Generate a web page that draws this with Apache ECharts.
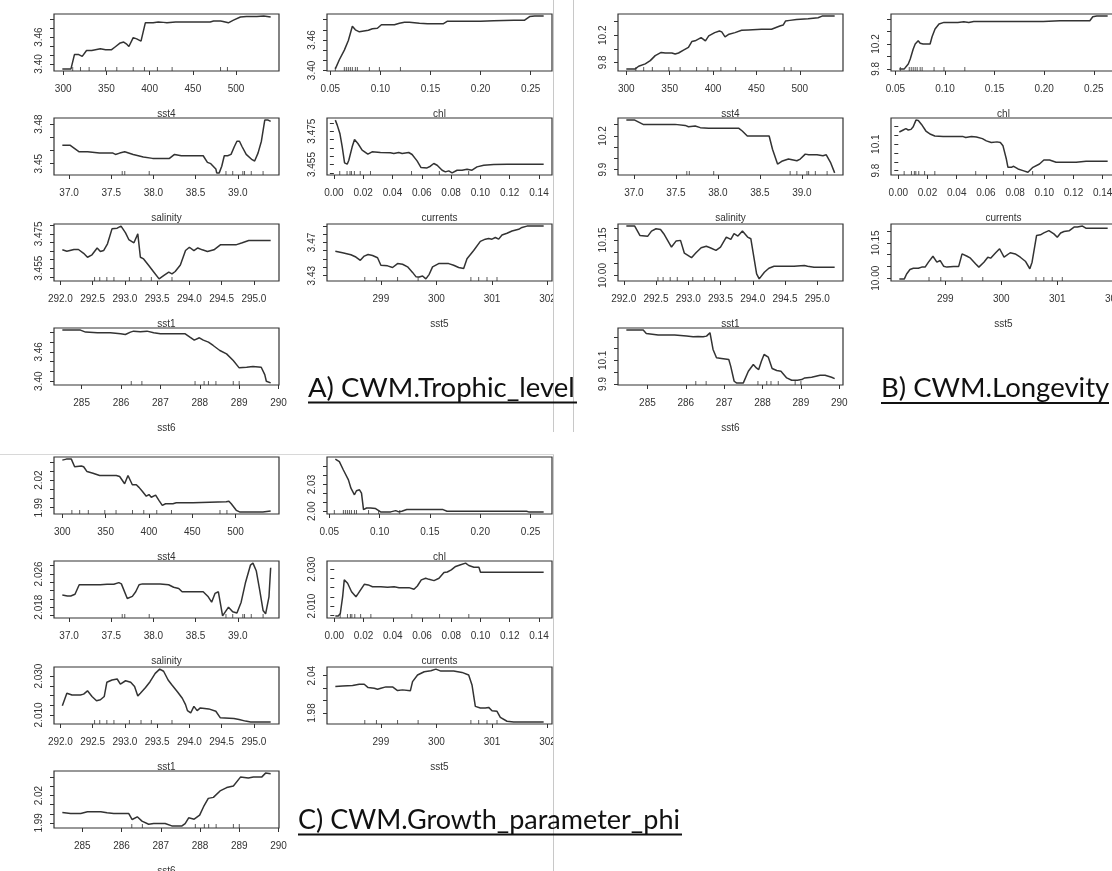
<!DOCTYPE html>
<html><head><meta charset="utf-8">
<script src="https://cdn.jsdelivr.net/npm/echarts@6/dist/echarts.min.js"></script>
<style>html,body{margin:0;padding:0;background:#fff}#c{width:1112px;height:871px}</style>
</head><body><div id="c"></div>
<script>
// ---------- x tick labels (shared by predictor) ----------
const SST4_TICKS = ['300','350','400','450','500'];
const CHL_TICKS = ['0.05','0.10','0.15','0.20','0.25'];
const SAL_TICKS = ['37.0','37.5','38.0','38.5','39.0'];
const CUR_TICKS = ['0.00','0.02','0.04','0.06','0.08','0.10','0.12','0.14'];
const SST1_TICKS = ['292.0','292.5','293.0','293.5','294.0','294.5','295.0'];
const SST5_TICKS = ['299','300','301','302'];
const SST6_TICKS = ['285','286','287','288','289','290'];

// ---------- rug (data deciles) ----------
const SST4_RUG = [311, 320, 330, 349, 362, 381, 394, 409, 426, 482, 490];
const CHL_RUG = [0.055, 0.064, 0.066, 0.068, 0.070, 0.072, 0.075, 0.077, 0.089, 0.099, 0.120];
const SAL_RUG = [37.63, 37.66, 37.95, 38.86, 38.94, 39.06, 39.08, 39.16, 39.30];
const CUR_RUG = [0.004, 0.009, 0.011, 0.012, 0.014, 0.018, 0.025, 0.053, 0.072, 0.092];
const SST1_RUG = [292.53, 292.61, 292.72, 292.83, 293.07, 293.25, 293.41, 293.73];
const SST5_RUG = [298.71, 298.92, 299.30, 299.67, 300.62, 300.76, 300.91, 301.09];
const SST6_RUG = [286.26, 286.53, 287.88, 288.11, 288.22, 288.41, 288.85, 289.00];

// ---------- A) CWM.Trophic_level ----------
const A_sst4_x = [299,309,313,318,322,327,333,343,349,356,360,366,370,373,376,381,385,390,395,404,410,416,420,430,451,470,474,482,485,491,497,505,512,524,532,540];
const A_sst4_y = [3.389,3.389,3.421,3.421,3.417,3.430,3.430,3.434,3.432,3.432,3.438,3.447,3.449,3.445,3.439,3.459,3.456,3.451,3.492,3.492,3.494,3.493,3.492,3.494,3.494,3.494,3.496,3.496,3.495,3.492,3.498,3.505,3.506,3.506,3.507,3.505];
const A_sst4_yt = ['3.40','3.42','3.44','3.46','3.48','3.50'];
const A_sst4_yl = ['3.40','3.46'];

const A_chl_x = [0.055,0.059,0.064,0.068,0.072,0.075,0.079,0.082,0.088,0.092,0.097,0.101,0.107,0.114,0.119,0.124,0.129,0.134,0.139,0.147,0.163,0.167,0.183,0.200,0.213,0.233,0.244,0.249,0.254,0.263];
const A_chl_y = [3.403,3.421,3.440,3.459,3.487,3.480,3.476,3.477,3.479,3.482,3.483,3.490,3.490,3.490,3.493,3.495,3.495,3.494,3.493,3.492,3.492,3.497,3.497,3.497,3.498,3.499,3.499,3.506,3.507,3.507];
const A_chl_yt = ['3.40','3.42','3.44','3.46','3.48','3.50'];
const A_chl_yl = ['3.40','3.46'];

const A_sal_x = [36.92,37.01,37.12,37.22,37.36,37.52,37.55,37.60,37.66,37.76,37.88,37.99,38.19,38.25,38.33,38.55,38.59,38.64,38.68,38.74,38.75,38.78,38.81,38.84,38.88,38.92,38.96,38.99,39.02,39.05,39.10,39.17,39.20,39.24,39.28,39.32,39.36,39.39];
const A_sal_y = [3.464,3.464,3.459,3.459,3.458,3.458,3.457,3.458,3.459,3.457,3.455,3.454,3.454,3.457,3.456,3.456,3.456,3.451,3.450,3.446,3.443,3.443,3.448,3.456,3.456,3.457,3.463,3.467,3.467,3.463,3.457,3.453,3.452,3.458,3.467,3.483,3.483,3.482];
const A_sal_yt = ['3.44','3.45','3.46','3.47','3.48'];
const A_sal_yl = ['3.45','3.48'];

const A_cur_x = [0.001,0.0023,0.0041,0.0057,0.0073,0.0091,0.0102,0.0125,0.0141,0.0164,0.0193,0.0232,0.0261,0.0318,0.0386,0.0409,0.0443,0.0466,0.0511,0.0534,0.0568,0.0595,0.0636,0.0659,0.0682,0.0705,0.0739,0.0761,0.0784,0.0807,0.0841,0.0875,0.0909,0.0943,0.0977,0.1023,0.1091,0.1182,0.1273,0.1432];
const A_cur_y = [3.4816,3.4786,3.4736,3.4656,3.456,3.4552,3.4576,3.4656,3.470,3.4676,3.4636,3.4612,3.4626,3.4622,3.462,3.4616,3.4622,3.4616,3.4622,3.461,3.4572,3.4532,3.453,3.454,3.4556,3.4546,3.4516,3.4506,3.4512,3.450,3.4516,3.4516,3.4522,3.4516,3.4536,3.4546,3.455,3.4552,3.4552,3.4552];
const A_cur_yt = ['3.450','3.455','3.460','3.465','3.470','3.475','3.480'];
const A_cur_yl = ['3.455','3.475'];

const A_sst1_x = [292.03,292.10,292.21,292.28,292.36,292.42,292.49,292.57,292.62,292.67,292.73,292.80,292.88,292.94,293.01,293.06,293.14,293.20,293.24,293.29,293.37,293.45,293.53,293.60,293.68,293.73,293.78,293.86,293.94,294.00,294.07,294.13,294.20,294.28,294.38,294.48,294.59,294.72,294.82,294.92,295.10,295.26];
const A_sst1_y = [3.4657,3.4649,3.4659,3.4659,3.4637,3.4614,3.4628,3.4668,3.4647,3.4653,3.4692,3.4779,3.4783,3.4795,3.4756,3.4717,3.4698,3.475,3.4614,3.4604,3.4566,3.4527,3.4488,3.4507,3.4527,3.4517,3.4531,3.4569,3.4653,3.4672,3.4653,3.4668,3.4657,3.4647,3.4657,3.4686,3.4686,3.4686,3.4698,3.4711,3.4711,3.4711];
const A_sst1_yt = ['3.450','3.455','3.460','3.465','3.470','3.475','3.480'];
const A_sst1_yl = ['3.455','3.475'];

const A_sst5_x = [298.18,298.31,298.46,298.55,298.63,298.70,298.77,298.85,298.94,299.00,299.12,299.21,299.30,299.39,299.48,299.57,299.63,299.69,299.75,299.81,299.87,299.93,300.04,300.22,300.31,300.40,300.49,300.55,300.67,300.79,300.88,300.94,301.00,301.06,301.12,301.18,301.27,301.36,301.48,301.54,301.63,301.75,301.93];
const A_sst5_y = [3.4594,3.4575,3.4551,3.4524,3.4484,3.4535,3.4555,3.4543,3.4516,3.4425,3.4418,3.4398,3.4445,3.4437,3.4406,3.4339,3.4288,3.4284,3.4296,3.4261,3.4316,3.4406,3.4445,3.4445,3.4425,3.4398,3.4386,3.4504,3.4602,3.4712,3.4739,3.4747,3.4739,3.4759,3.4739,3.479,3.481,3.4837,3.4857,3.488,3.4896,3.4896,3.4896];
const A_sst5_yt = ['3.43','3.44','3.45','3.46','3.47','3.48','3.49'];
const A_sst5_yl = ['3.43','3.47'];

const A_sst6_x = [284.51,284.97,285.10,285.40,285.73,285.99,286.11,286.24,286.32,286.49,286.66,286.83,287.00,287.17,287.50,287.63,287.75,287.86,287.99,288.09,288.22,288.34,288.51,288.68,288.85,289.00,289.19,289.35,289.56,289.65,289.69,289.80];
const A_sst6_y = [3.5044,3.5044,3.5003,3.4989,3.4989,3.4969,3.4955,3.5003,3.5023,3.501,3.5023,3.4989,3.4969,3.4969,3.4969,3.4969,3.490,3.4839,3.4887,3.4839,3.4798,3.473,3.4628,3.4559,3.4423,3.4273,3.4286,3.430,3.4286,3.4136,3.400,3.3966];
const A_sst6_yt = ['3.40','3.42','3.44','3.46','3.48','3.50'];
const A_sst6_yl = ['3.40','3.46'];

// ---------- B) CWM.Longevity ----------
const B_sst4_x = [300.0,310.3,314.2,321.8,327.6,333.3,340.2,344.8,352.5,356.3,360.2,365.9,371.6,375.5,379.3,386.2,391.2,395.0,401.9,407.3,410.0,413.8,418.4,425.3,432.9,440.6,455.9,467.4,477.0,480.8,483.5,488.5,496.2,509.6,521.1,525.7,540.2];
const B_sst4_y = [9.702,9.702,9.741,9.776,9.824,9.898,9.946,9.937,9.937,9.922,9.937,9.980,10.020,10.107,10.117,10.166,10.117,10.190,10.239,10.263,10.249,10.176,10.215,10.239,10.273,10.278,10.288,10.288,10.337,10.351,10.410,10.420,10.434,10.444,10.459,10.483,10.483];
const B_sst4_yt = ['9.8','10.0','10.2','10.4'];
const B_sst4_yl = ['9.8','10.2'];

const B_chl_x = [0.054,0.059,0.063,0.065,0.068,0.070,0.073,0.075,0.078,0.085,0.087,0.090,0.094,0.099,0.106,0.113,0.119,0.124,0.129,0.149,0.199,0.216,0.246,0.249,0.253,0.264];
const B_chl_y = [9.8,9.8,9.88,9.96,10.12,10.2,10.253,10.211,10.2,10.2,10.317,10.44,10.52,10.547,10.547,10.547,10.557,10.547,10.563,10.563,10.563,10.573,10.573,10.637,10.648,10.648];
const B_chl_yt = ['9.8','10.0','10.2','10.4','10.6'];
const B_chl_yl = ['9.8','10.2'];

const B_sal_x = [36.91,37.01,37.11,37.29,37.49,37.61,37.65,37.73,37.79,37.89,38.01,38.25,38.29,38.35,38.47,38.61,38.65,38.71,38.76,38.84,38.94,38.98,39.04,39.08,39.18,39.25,39.29,39.34,39.39];
const B_sal_y = [10.341,10.341,10.303,10.303,10.303,10.294,10.282,10.288,10.274,10.268,10.268,10.268,10.244,10.2,10.2,10.2,10.082,9.95,9.974,9.994,9.979,9.994,10.038,10.032,10.032,10.024,10.032,9.965,9.871];
const B_sal_yt = ['9.9','10.0','10.1','10.2','10.3'];
const B_sal_yl = ['9.9','10.2'];

const B_cur_x = [0.0007,0.0034,0.0052,0.0068,0.0087,0.0102,0.0121,0.0137,0.0159,0.0189,0.0221,0.025,0.0307,0.0398,0.0444,0.0462,0.0501,0.0535,0.0576,0.0603,0.0637,0.0676,0.0699,0.0717,0.074,0.0751,0.0774,0.079,0.082,0.0854,0.0888,0.0899,0.0922,0.0967,0.0997,0.1036,0.1081,0.1172,0.1218,0.1286,0.14,0.1434];
const B_cur_y = [10.238,10.261,10.276,10.261,10.268,10.298,10.373,10.369,10.324,10.249,10.212,10.193,10.186,10.186,10.186,10.175,10.186,10.182,10.163,10.137,10.118,10.126,10.118,10.081,9.931,9.837,9.837,9.849,9.819,9.8,9.781,9.774,9.837,9.875,9.92,9.92,9.894,9.894,9.894,9.905,9.905,9.905];
const B_cur_yt = ['9.8','9.9','10.0','10.1','10.2','10.3','10.4'];
const B_cur_yl = ['9.8','10.1'];

const B_sst1_x = [292.04,292.17,292.25,292.37,292.43,292.50,292.57,292.62,292.74,292.81,292.88,292.94,293.05,293.12,293.20,293.28,293.34,293.43,293.50,293.59,293.66,293.71,293.77,293.84,293.92,293.97,294.06,294.10,294.18,294.25,294.33,294.49,294.64,294.80,294.85,294.95,295.27];
const B_sst1_y = [10.208,10.208,10.169,10.165,10.187,10.197,10.194,10.176,10.12,10.145,10.148,10.094,10.075,10.096,10.117,10.123,10.117,10.106,10.12,10.162,10.152,10.176,10.166,10.187,10.162,10.155,10.007,9.986,10.014,10.031,10.039,10.039,10.039,10.042,10.039,10.035,10.035];
const B_sst1_yt = ['10.00','10.05','10.10','10.15','10.20'];
const B_sst1_yl = ['10.00','10.15'];

const B_sst5_x = [298.18,298.27,298.31,298.37,298.43,298.52,298.58,298.64,298.70,298.78,298.85,298.91,298.97,299.03,299.15,299.24,299.30,299.39,299.45,299.54,299.60,299.69,299.76,299.81,299.90,299.97,300.05,300.16,300.25,300.34,300.43,300.51,300.55,300.63,300.70,300.76,300.85,300.94,301.00,301.06,301.12,301.21,301.30,301.36,301.45,301.51,301.60,301.90];
const B_sst5_y = [9.997,9.997,10.018,10.037,10.042,10.042,10.047,10.047,10.068,10.093,10.068,10.075,10.051,10.047,10.05,10.05,10.103,10.093,10.085,10.061,10.047,10.068,10.089,10.085,10.108,10.125,10.089,10.108,10.103,10.089,10.072,10.04,10.068,10.181,10.184,10.192,10.202,10.188,10.174,10.192,10.198,10.201,10.217,10.217,10.221,10.212,10.212,10.212];
const B_sst5_yt = ['10.00','10.05','10.10','10.15','10.20'];
const B_sst5_yl = ['10.00','10.15'];

const B_sst6_x = [284.45,284.89,284.97,285.28,285.71,286.02,286.19,286.32,286.45,286.54,286.63,286.71,286.80,286.93,287.12,287.17,287.26,287.32,287.50,287.63,287.76,287.84,287.90,287.97,288.04,288.15,288.25,288.37,288.48,288.63,288.76,288.91,289.02,289.10,289.28,289.50,289.63,289.80,289.88];
const B_sst6_y = [10.357,10.357,10.329,10.315,10.315,10.306,10.301,10.303,10.301,10.306,10.335,10.193,10.122,10.116,10.107,10.051,9.923,9.909,9.909,10.008,10.065,10.036,10.022,10.093,10.15,10.127,10.031,10.014,10.008,9.951,9.931,9.931,9.937,9.951,9.957,9.974,9.974,9.957,9.945];
const B_sst6_yt = ['9.9','10.0','10.1','10.2','10.3'];
const B_sst6_yl = ['9.9','10.1'];

// ---------- C) CWM.Growth_parameter_phi ----------
const C_sst4_x = [300.0,304.6,310.4,314.2,321.9,324.6,328.5,335.4,343.1,350.8,362.3,366.2,371.9,375.8,380.8,385.4,388.5,392.3,396.9,400.0,402.7,407.7,411.5,415.4,419.2,427.7,431.5,450.8,489.2,492.3,495.0,500.8,504.6,516.2,531.5,533.5,540.5];
const C_sst4_y = [2.0418,2.0429,2.0429,2.0346,2.0354,2.0346,2.0293,2.0275,2.025,2.025,2.025,2.0239,2.0161,2.025,2.015,2.015,2.0121,2.0079,2.0025,2.0043,2.0014,2.0036,1.9979,1.9925,1.9943,1.9943,1.9954,1.9954,1.9964,1.9971,1.9943,1.9871,1.9854,1.9854,1.9854,1.9864,1.9864];
const C_sst4_yt = ['1.99','2.00','2.01','2.02','2.03','2.04'];
const C_sst4_yl = ['1.99','2.02'];

const C_chl_x = [0.056,0.060,0.064,0.069,0.0715,0.075,0.077,0.080,0.082,0.084,0.087,0.091,0.096,0.101,0.111,0.116,0.119,0.122,0.127,0.134,0.150,0.163,0.167,0.183,0.246,0.248,0.263];
const C_chl_y = [2.0585,2.0556,2.0463,2.0352,2.0259,2.0185,2.023,2.0241,2.0204,2.0019,2.0037,2.0037,2.003,1.9993,1.9993,2.0007,1.9993,2.0,2.0019,2.0019,2.0019,2.0019,2.0,2.0,2.0,1.9993,1.9993];
const C_chl_yt = ['2.00','2.01','2.02','2.03','2.04','2.05'];
const C_chl_yl = ['2.00','2.03'];

const C_sal_x = [36.92,36.98,37.02,37.07,37.12,37.22,37.37,37.45,37.53,37.59,37.62,37.69,37.75,37.79,37.83,37.87,37.93,38.08,38.18,38.24,38.30,38.34,38.48,38.59,38.65,38.69,38.73,38.77,38.82,38.89,38.94,38.99,39.01,39.04,39.09,39.15,39.18,39.22,39.26,39.30,39.33,39.37,39.39];
const C_sal_y = [2.0209,2.0207,2.0207,2.0211,2.0234,2.0234,2.0234,2.0235,2.0235,2.0239,2.0236,2.0201,2.0206,2.0217,2.0234,2.0236,2.0236,2.0236,2.0234,2.0228,2.0225,2.0217,2.0217,2.0217,2.0205,2.0192,2.0213,2.0217,2.0159,2.018,2.0169,2.0166,2.0166,2.0192,2.0238,2.0281,2.0286,2.0267,2.0221,2.0172,2.0164,2.0205,2.0275];
const C_sal_yt = ['2.016','2.018','2.020','2.022','2.024','2.026','2.028'];
const C_sal_yl = ['2.018','2.026'];

const C_cur_x = [0.0007,0.0027,0.0041,0.0057,0.0068,0.0091,0.0118,0.0148,0.0164,0.0205,0.0232,0.0261,0.0318,0.0364,0.0409,0.0443,0.0511,0.0545,0.0568,0.0595,0.0625,0.0648,0.0682,0.0716,0.075,0.0773,0.08,0.083,0.0864,0.0898,0.092,0.0955,0.0989,0.1,0.1091,0.1432];
const C_cur_y = [2.0047,2.0047,2.006,2.0151,2.0242,2.0224,2.0178,2.0151,2.0169,2.0218,2.0215,2.0205,2.0205,2.0202,2.0205,2.02,2.02,2.0191,2.0209,2.0242,2.0251,2.0245,2.0238,2.0251,2.0282,2.0285,2.0296,2.0315,2.0324,2.0333,2.032,2.0311,2.0311,2.0284,2.0284,2.0284];
const C_cur_yt = ['2.005','2.010','2.015','2.020','2.025','2.030'];
const C_cur_yl = ['2.010','2.030'];

const C_sst1_x = [292.03,292.10,292.18,292.31,292.36,292.42,292.49,292.56,292.62,292.68,292.72,292.80,292.88,292.93,293.01,293.09,293.15,293.20,293.24,293.32,293.39,293.47,293.54,293.60,293.67,293.73,293.82,293.89,293.94,293.97,294.02,294.07,294.12,294.17,294.30,294.41,294.48,294.69,294.77,294.87,294.95,295.21,295.26];
const C_sst1_y = [2.0147,2.0212,2.0203,2.0203,2.0207,2.0224,2.0195,2.0173,2.0178,2.0195,2.0268,2.028,2.0285,2.0259,2.0276,2.0268,2.0246,2.0198,2.0212,2.0241,2.0271,2.0314,2.0336,2.0325,2.0280,2.0254,2.0217,2.0186,2.0153,2.0122,2.011,2.0144,2.0122,2.0136,2.0131,2.0119,2.0085,2.0081,2.0076,2.0068,2.0064,2.0064,2.0064];
const C_sst1_yt = ['2.010','2.015','2.020','2.025','2.030'];
const C_sst1_yl = ['2.010','2.030'];

const C_sst5_x = [298.18,298.31,298.49,298.61,298.70,298.77,298.88,298.94,299.00,299.09,299.21,299.30,299.39,299.53,299.57,299.66,299.78,299.90,299.99,300.08,300.31,300.46,300.58,300.64,300.70,300.79,300.88,300.94,301.00,301.09,301.15,301.27,301.39,301.93];
const C_sst5_y = [2.0225,2.0235,2.0241,2.0262,2.0262,2.0209,2.0198,2.0182,2.0198,2.022,2.022,2.0161,2.0172,2.0156,2.0305,2.0411,2.0464,2.048,2.0506,2.0474,2.0474,2.0453,2.0411,2.0251,1.9906,1.988,1.988,1.989,1.9837,1.9827,1.9731,1.9667,1.9657,1.9657];
const C_sst5_yt = ['1.98','2.00','2.02','2.04'];
const C_sst5_yl = ['1.98','2.04'];

const C_sst6_x = [284.49,284.70,284.96,285.13,285.47,285.63,285.80,286.18,286.27,286.40,286.52,286.69,286.82,287.11,287.28,287.54,287.62,287.71,287.85,287.99,288.09,288.21,288.34,288.51,288.68,288.85,289.03,289.23,289.36,289.57,289.67,289.80];
const C_sst6_y = [2.0015,2.0004,2.0004,2.0022,2.0022,2.0011,2.0004,2.0004,1.9937,1.9967,1.9919,1.9885,1.9893,1.9893,1.9867,1.9867,1.9893,1.9956,1.9941,1.9985,2.0078,2.017,2.0181,2.0252,2.0289,2.0307,2.0404,2.0393,2.0404,2.0404,2.0448,2.0441];
const C_sst6_yt = ['1.99','2.00','2.01','2.02','2.03','2.04'];
const C_sst6_yl = ['1.99','2.02'];

const PANEL_TITLES = ['A) CWM.Trophic_level', 'B) CWM.Longevity', 'C) CWM.Growth_parameter_phi'];

// ---------- plot list ----------
// [panel, row, col, xname, x, y, xTicks, yTicks, yLabels, rug]
const PLOTS = [
  ['A',0,0,'sst4',A_sst4_x,A_sst4_y,SST4_TICKS,A_sst4_yt,A_sst4_yl,SST4_RUG],
  ['A',0,1,'chl',A_chl_x,A_chl_y,CHL_TICKS,A_chl_yt,A_chl_yl,CHL_RUG],
  ['A',1,0,'salinity',A_sal_x,A_sal_y,SAL_TICKS,A_sal_yt,A_sal_yl,SAL_RUG],
  ['A',1,1,'currents',A_cur_x,A_cur_y,CUR_TICKS,A_cur_yt,A_cur_yl,CUR_RUG],
  ['A',2,0,'sst1',A_sst1_x,A_sst1_y,SST1_TICKS,A_sst1_yt,A_sst1_yl,SST1_RUG],
  ['A',2,1,'sst5',A_sst5_x,A_sst5_y,SST5_TICKS,A_sst5_yt,A_sst5_yl,SST5_RUG],
  ['A',3,0,'sst6',A_sst6_x,A_sst6_y,SST6_TICKS,A_sst6_yt,A_sst6_yl,SST6_RUG],
  ['B',0,0,'sst4',B_sst4_x,B_sst4_y,SST4_TICKS,B_sst4_yt,B_sst4_yl,SST4_RUG],
  ['B',0,1,'chl',B_chl_x,B_chl_y,CHL_TICKS,B_chl_yt,B_chl_yl,CHL_RUG],
  ['B',1,0,'salinity',B_sal_x,B_sal_y,SAL_TICKS,B_sal_yt,B_sal_yl,SAL_RUG],
  ['B',1,1,'currents',B_cur_x,B_cur_y,CUR_TICKS,B_cur_yt,B_cur_yl,CUR_RUG],
  ['B',2,0,'sst1',B_sst1_x,B_sst1_y,SST1_TICKS,B_sst1_yt,B_sst1_yl,SST1_RUG],
  ['B',2,1,'sst5',B_sst5_x,B_sst5_y,SST5_TICKS,B_sst5_yt,B_sst5_yl,SST5_RUG],
  ['B',3,0,'sst6',B_sst6_x,B_sst6_y,SST6_TICKS,B_sst6_yt,B_sst6_yl,SST6_RUG],
  ['C',0,0,'sst4',C_sst4_x,C_sst4_y,SST4_TICKS,C_sst4_yt,C_sst4_yl,SST4_RUG],
  ['C',0,1,'chl',C_chl_x,C_chl_y,CHL_TICKS,C_chl_yt,C_chl_yl,CHL_RUG],
  ['C',1,0,'salinity',C_sal_x,C_sal_y,SAL_TICKS,C_sal_yt,C_sal_yl,SAL_RUG],
  ['C',1,1,'currents',C_cur_x,C_cur_y,CUR_TICKS,C_cur_yt,C_cur_yl,CUR_RUG],
  ['C',2,0,'sst1',C_sst1_x,C_sst1_y,SST1_TICKS,C_sst1_yt,C_sst1_yl,SST1_RUG],
  ['C',2,1,'sst5',C_sst5_x,C_sst5_y,SST5_TICKS,C_sst5_yt,C_sst5_yl,SST5_RUG],
  ['C',3,0,'sst6',C_sst6_x,C_sst6_y,SST6_TICKS,C_sst6_yt,C_sst6_yl,SST6_RUG]
];

// ---------- layout ----------
const PANEL_DX = {A:0, B:564, C:0};
const PANEL_DY = {A:0, B:0, C:443};
const COL_LEFT = [54, 327];
const ROW_TOP = [14, 118, 224, 328];
const BOX_W = 225, BOX_H = 57;
const INK = '#333';
const LINE = '#333';
const FONT = '"Liberation Sans", Arial, sans-serif';

function ext(a){const mn=Math.min(...a),mx=Math.max(...a),r=mx-mn;return [mn-0.04*r,mx+0.04*r];}
function dec(s){const p=s.split('.');return p.length>1?p[1].length:0;}

const grids=[], xAxes=[], yAxes=[], series=[];
PLOTS.forEach((p,i)=>{
  const [pan,row,col,name,xs,ys,xt,yt,yl,rug]=p;
  const xe=ext(xs), ye=ext(ys);
  grids.push({left:PANEL_DX[pan]+COL_LEFT[col], top:PANEL_DY[pan]+ROW_TOP[row], width:BOX_W, height:BOX_H,
    show:true, borderColor:INK, borderWidth:1.2, backgroundColor:'transparent', containLabel:false, outerBoundsMode:'none'});
  const xv=xt.map(Number).filter(v=>v>=xe[0]&&v<=xe[1]);
  const xd=dec(xt[0]);
  xAxes.push({type:'value', gridIndex:i, min:xe[0], max:xe[1], position:'bottom',
    name:name, nameLocation:'middle', nameGap:38,
    nameTextStyle:{fontSize:10, color:INK, fontFamily:FONT},
    axisLine:{show:false}, splitLine:{show:false},
    axisTick:{show:true, inside:false, length:4, customValues:xv, lineStyle:{color:INK, width:1}},
    axisLabel:{show:true, customValues:xv, margin:13, fontSize:10, color:INK, fontFamily:FONT,
      formatter:v=>Number(v).toFixed(xd), hideOverlap:false}});
  const yv=yt.map(Number).filter(v=>v>=ye[0]&&v<=ye[1]);
  const ylv=yl.map(Number);
  const yd=dec(yl[0]);
  yAxes.push({type:'value', gridIndex:i, min:ye[0], max:ye[1], position:'left',
    axisLine:{show:false}, splitLine:{show:false},
    axisTick:{show:true, inside:false, length:4, customValues:yv, lineStyle:{color:INK, width:1}},
    axisLabel:{show:true, customValues:ylv, rotate:90, margin:10, fontSize:10, color:INK, fontFamily:FONT,
      formatter:v=>Number(v).toFixed(yd), hideOverlap:false}});
  series.push({type:'line', xAxisIndex:i, yAxisIndex:i, showSymbol:false, symbol:'none', clip:true,
    lineStyle:{color:LINE, width:1.5}, data:xs.map((v,k)=>[v,ys[k]]), silent:true});
  series.push({type:'scatter', xAxisIndex:i, yAxisIndex:i, symbol:'rect', symbolSize:[1,4], symbolOffset:[0,-2], clip:false,
    itemStyle:{color:INK}, data:rug.map(v=>[v,ye[0]]), silent:true});
});

const TITLE_FONT = 'Lato, "Open Sans", sans-serif';
const graphic = [
  {type:'rect', z:100, shape:{x:554, y:0, width:19, height:440}, style:{fill:'#fff'}},
  {type:'rect', z:100, shape:{x:554, y:455, width:560, height:420}, style:{fill:'#fff'}},
  {type:'line', z:101, shape:{x1:553.5,y1:0,x2:553.5,y2:432}, style:{stroke:'#c8c8c8', lineWidth:1}},
  {type:'line', z:101, shape:{x1:573.5,y1:0,x2:573.5,y2:432}, style:{stroke:'#c8c8c8', lineWidth:1}},
  {type:'line', z:101, shape:{x1:0,y1:454.5,x2:553.5,y2:454.5}, style:{stroke:'#d8d8d8', lineWidth:1}},
  {type:'line', z:101, shape:{x1:553.5,y1:454.5,x2:553.5,y2:871}, style:{stroke:'#c8c8c8', lineWidth:1}},
  {type:'text', z:102, style:{text:PANEL_TITLES[0], x:308, y:388, verticalAlign:'middle', fontSize:27.5, fontFamily:TITLE_FONT, fill:'#111'}},
  {type:'line', z:102, shape:{x1:308,y1:402.5,x2:577,y2:402.5}, style:{stroke:'#111', lineWidth:2}},
  {type:'text', z:102, style:{text:PANEL_TITLES[1], x:881, y:388, verticalAlign:'middle', fontSize:27.5, fontFamily:TITLE_FONT, fill:'#111'}},
  {type:'line', z:102, shape:{x1:881,y1:403,x2:1109,y2:403}, style:{stroke:'#111', lineWidth:2}},
  {type:'text', z:102, style:{text:PANEL_TITLES[2], x:298, y:820, verticalAlign:'middle', fontSize:27, fontFamily:TITLE_FONT, fill:'#111'}},
  {type:'line', z:102, shape:{x1:298,y1:834.5,x2:682,y2:834.5}, style:{stroke:'#111', lineWidth:2}}
];

const chart = echarts.init(document.getElementById('c'), null, {renderer:'canvas', width:1112, height:871});
chart.setOption({animation:false, backgroundColor:'#fff', grid:grids, xAxis:xAxes, yAxis:yAxes, series:series, graphic:graphic});
</script>
</body></html>
